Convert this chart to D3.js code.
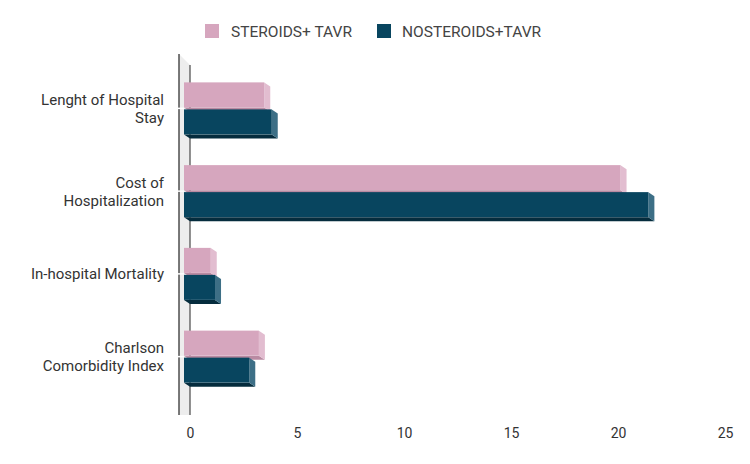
<!DOCTYPE html>
<html><head><meta charset="utf-8">
<script src="https://cdn.jsdelivr.net/npm/d3@7"></script>
<style>body{margin:0;background:#fff}svg{display:block;font-family:Roboto,"Liberation Sans",Arial,sans-serif}</style>
</head><body><svg id="c" width="750" height="464"></svg>
<script>
const categories = [["Lenght of Hospital","Stay"],["Cost of","Hospitalization"],["In-hospital Mortality"],["Charlson","Comorbidity Index"]];
const seriesNames = ["STEROIDS+ TAVR","NOSTEROIDS+TAVR"];
const steroids = [3.75, 20.4, 1.25, 3.5];
const noSteroids = [4.1, 21.7, 1.45, 3.05];
const xTicks = [0,5,10,15,20,25];

const svg = d3.select("#c");
const x = d3.scaleLinear().domain([0,25]).range([190,725]);
const y = d3.scaleBand().domain(d3.range(categories.length)).range([67,398]).padding(0);
const dx = 6, dy = 4, bh = 25;
const cols = [
  {front:"#d6a6be", side:"#e2bdd0", bottom:"#b98aa2"},
  {front:"#08455f", side:"#3d6f86", bottom:"#052c3d"}
];

// wall
svg.append("path").attr("d","M179,54 L190,65 L190,415 L179,415 Z").attr("fill","#ededed");
svg.append("line").attr("x1",179).attr("x2",179).attr("y1",54).attr("y2",415).attr("stroke","#333").attr("stroke-width",1.3);
svg.append("line").attr("x1",190).attr("x2",190).attr("y1",65).attr("y2",415).attr("stroke","#555").attr("stroke-width",1.3);

const data = [steroids, noSteroids];
data.forEach((vals, si) => {
  const g = svg.append("g");
  vals.forEach((v, i) => {
    const c = y(i) + y.bandwidth()/2;
    const y0 = si === 0 ? c - 1 - bh : c + 1;
    const y1 = y0 + bh;
    const xb = x(v);
    const x1 = xb - dx;
    const x0 = x(0) - dx;
    g.append("path").attr("d",`M${x0},${y1} L${x1},${y1} L${x1+dx},${y1+dy} L${x0+dx},${y1+dy} Z`).attr("fill",cols[si].bottom);
    g.append("path").attr("d",`M${x1},${y0} L${x1+dx},${y0+dy} L${x1+dx},${y1+dy} L${x1},${y1} Z`).attr("fill",cols[si].side);
    g.append("rect").attr("x",x0).attr("y",y0).attr("width",x1-x0).attr("height",bh).attr("fill",cols[si].front);
  });
});

categories.forEach((d,i)=>{
  const c = y(i)+y.bandwidth()/2;
  svg.append("line").attr("x1",177).attr("x2",184).attr("y1",c).attr("y2",c).attr("stroke","#fff").attr("stroke-width",1.5);
});

categories.forEach((lines,i)=>{
  const c = y(i)+y.bandwidth()/2;
  const t = svg.append("text").attr("x",164).attr("text-anchor","end").attr("fill","#333").attr("font-size",15);
  const off = lines.length===1 ? [5] : [-3.5, 14.5];
  lines.forEach((l,k)=> t.append("tspan").attr("x",164).attr("y",c+off[k]).text(l));
});

const ax = svg.append("g").attr("transform","translate(0,438)").call(d3.axisBottom(x).tickValues(xTicks).tickSize(0).tickPadding(0));
ax.select(".domain").remove();
ax.selectAll("text").attr("font-size",14).attr("fill","#333").attr("font-family","Roboto,'Liberation Sans',Arial,sans-serif").attr("dy","0");

const leg = [{x:205,tx:231},{x:377,tx:402}];
seriesNames.forEach((n,i)=>{
  svg.append("rect").attr("x",leg[i].x).attr("y",24).attr("width",14).attr("height",14).attr("fill",cols[i].front);
  svg.append("text").attr("x",leg[i].tx).attr("y",37).attr("font-size",15.5).attr("fill","#444").text(n);
});
</script></body></html>
